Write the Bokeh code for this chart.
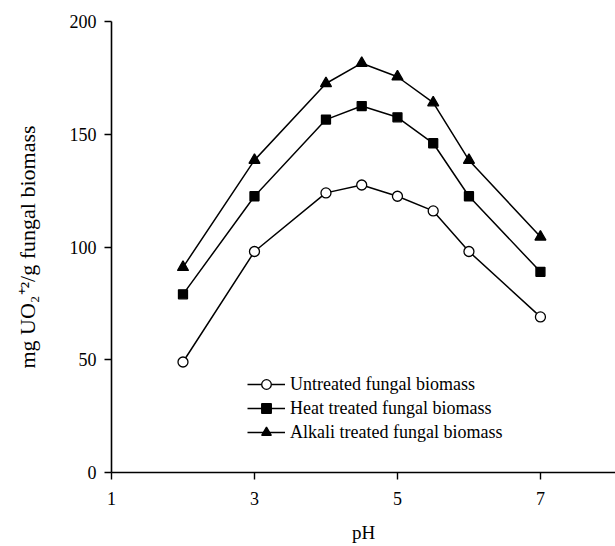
from bokeh.plotting import figure
from bokeh.models import Range1d, FixedTicker, Legend, LegendItem
from bokeh.embed import file_html
from bokeh.resources import INLINE

ph = [2, 3, 4, 4.5, 5, 5.5, 6, 7]
untreated = [49, 98, 124, 127.5, 122.5, 116, 98, 69]
heat = [79, 122.5, 156.5, 162.5, 157.5, 146, 122.5, 89]
alkali = [91, 138.5, 172.5, 181.5, 175.5, 164, 138.5, 104.5]
series_names = ["Untreated fungal biomass", "Heat treated fungal biomass",
                "Alkali treated fungal biomass"]
x_ticks = [1, 3, 5, 7]
y_ticks = [0, 50, 100, 150, 200]
x_title = "pH"
y_title = "mg UO\u2082\u207a\u00b2/g fungal biomass"

FONT = "Liberation Serif"

p = figure(width=615, height=546, output_backend="svg", toolbar_location=None,
           x_range=Range1d(1, 8.05), y_range=Range1d(0, 200),
           min_border_left=111, min_border_right=0, min_border_top=21,
           min_border_bottom=74)
p.outline_line_color = None
p.grid.grid_line_color = None
p.background_fill_color = "white"
p.border_fill_color = "white"

for ax in (p.xaxis, p.yaxis):
    ax.axis_line_color = "black"
    ax.axis_line_width = 1.6
    ax.major_tick_line_color = "black"
    ax.major_tick_line_width = 1.4
    ax.major_tick_out = 7
    ax.major_tick_in = 0
    ax.minor_tick_line_color = None
    ax.major_label_text_font = FONT
    ax.major_label_text_font_size = "18px"
    ax.major_label_text_color = "black"
    ax.axis_label_text_font = FONT
    ax.axis_label_text_font_style = "normal"
    ax.axis_label_text_color = "black"

p.xaxis.ticker = FixedTicker(ticks=x_ticks)
p.yaxis.ticker = FixedTicker(ticks=y_ticks)
p.xaxis.major_label_standoff = 12
p.yaxis.major_label_standoff = 8

p.xaxis.axis_label = x_title
p.xaxis.axis_label_text_font_size = "19px"
p.xaxis.axis_label_standoff = 14

p.yaxis.axis_label = y_title
p.yaxis.axis_label_text_font_size = "22px"
p.yaxis.axis_label_standoff = 27

styles = [
    dict(marker="circle", size=10, fill_color="white"),
    dict(marker="square", size=9, fill_color="black"),
    dict(marker="triangle", size=11, fill_color="black"),
]
items = []
for ys, name, st in zip([untreated, heat, alkali], series_names, styles):
    ln = p.line(ph, ys, line_color="black", line_width=1.5)
    sc = p.scatter(ph, ys, marker=st["marker"], size=st["size"],
                   fill_color=st["fill_color"], line_color="black", line_width=1.3)
    items.append(LegendItem(label=name, renderers=[ln, sc]))

legend = Legend(items=items, location=(136, 28), padding=0, margin=0,
                border_line_color=None, background_fill_alpha=0,
                label_text_font=FONT, label_text_font_size="18px",
                label_text_color="black", glyph_width=38, glyph_height=24,
                label_height=24, label_standoff=5, spacing=0)
p.add_layout(legend, "center")

open("out.html", "w").write(file_html(p, INLINE))
